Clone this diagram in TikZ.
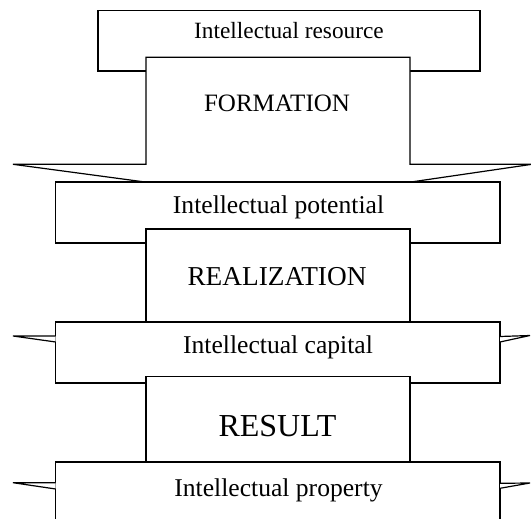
\documentclass[tikz,border=0pt]{standalone}
\usepackage{fontspec}
\setmainfont{Liberation Serif}

\begin{document}
\begin{tikzpicture}[x=1pt,y=-1pt,line width=1.2pt,line join=miter,
  stage box/.style={draw,fill=white},
  wedge/.style={draw,fill=white},
  level text/.style={anchor=base,inner sep=0pt,font=\fontsize{25.6}{30}\selectfont},
  stage text/.style={anchor=base,inner sep=0pt,font=\fontsize{25}{30}\selectfont}]

  \useasboundingbox (0,0) rectangle (531,519);
  \clip (0,0) rectangle (531,519);

  % resource and formation
  \path[stage box] (98,10.7) rectangle (480,71);
  \path[wedge] (146,57.3) -- (410,57.3) -- (410,164.3) -- (532,164.3)
    -- (411,182) -- (145,182) -- (13,164.3) -- (146,164.3) -- cycle;

  % potential and realization
  \path[stage box] (55.7,182) rectangle (500,243);
  \path[stage box] (146,229) rectangle (410,322);

  % capital and result
  \path[stage box] (55.7,322) rectangle (500,383);
  \path[wedge] (55.7,336) -- (13,336) -- (55.7,342);
  \path[wedge] (500,336.5) -- (530,335.5) -- (500,342);
  \path[stage box] (146,376.6) rectangle (410,462);

  % property
  \path[stage box] (55.7,462) rectangle (500,530);
  \path[wedge] (55.7,482.7) -- (13,482.7) -- (55.7,489);
  \path[wedge] (500,483.3) -- (530,483) -- (500,488.3);

  \node[level text,font=\fontsize{23.3}{28}\selectfont] (resource) at (289,39) {Intellectual resource};
  \node[stage text]                                    (formation) at (277,112) {FORMATION};
  \node[level text]                                    (potential) at (278.5,214) {Intellectual potential};
  \node[stage text,font=\fontsize{27.3}{32}\selectfont] (realization) at (277,285) {REALIZATION};
  \node[level text]                                    (capital) at (278,353.6) {Intellectual capital};
  \node[stage text,font=\fontsize{32}{38}\selectfont]   (result) at (277.5,436.6) {RESULT};
  \node[level text]                                    (property) at (278.5,496) {Intellectual property};

\end{tikzpicture}
\end{document}
